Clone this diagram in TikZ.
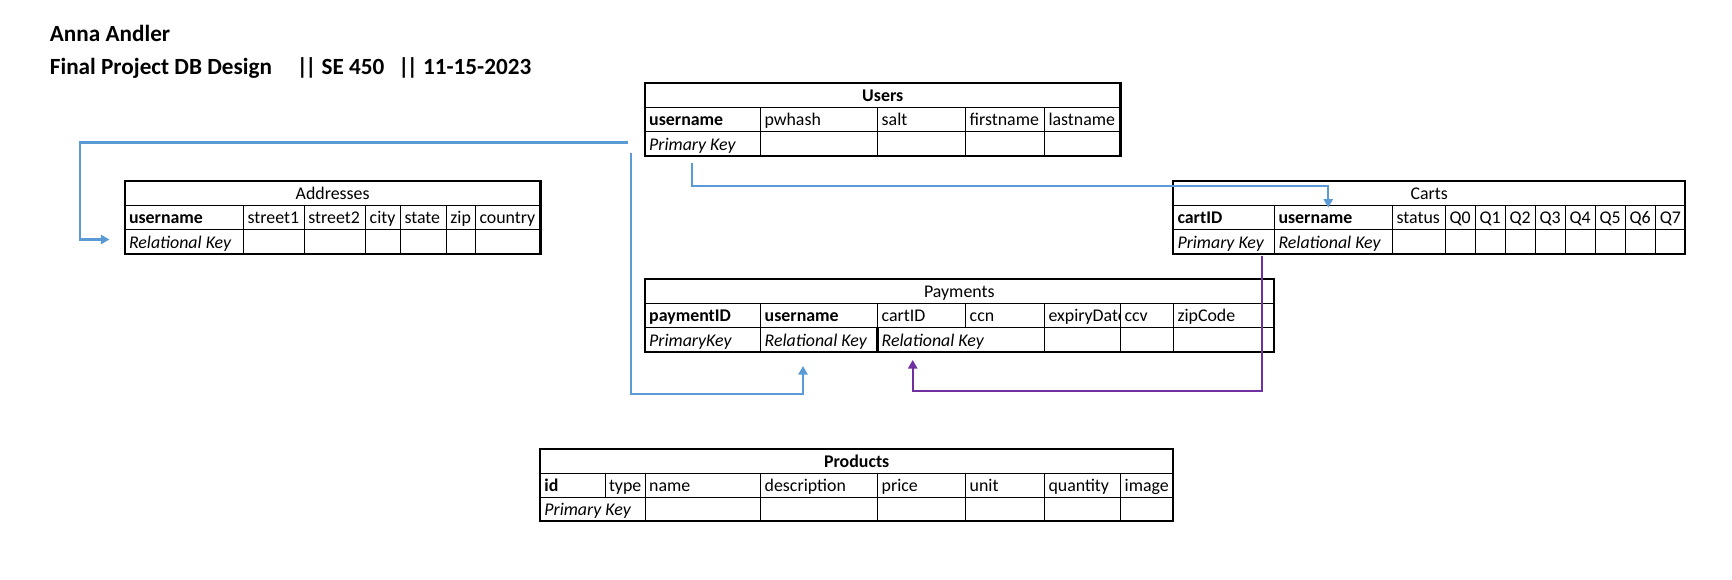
\documentclass[tikz,border=0pt]{standalone}
\usepackage{fontspec}
\setmainfont{Carlito}
\usetikzlibrary{fit,arrows.meta}
\definecolor{linkblue}{HTML}{5B9BD5}
\definecolor{linkpurple}{HTML}{7030A0}
\newcommand\tabfont{\fontsize{8.93}{10.7}\selectfont}
\newcommand\ttlfont{\fontsize{11.6}{13.9}\selectfont\bfseries}
\newcommand\dbar{|\kern-1.3pt|}
\begin{document}
\begin{tikzpicture}[x=0.5pt,y=-0.5pt,
  tbl/.style={draw, line width=1.1pt, inner sep=0pt},
  gridline/.style={line width=0.5pt},
  thickline/.style={line width=1.1pt},
  cell/.style={anchor=base west, inner sep=0pt, font=\tabfont},
  hcell/.style={anchor=base, inner sep=0pt, font=\tabfont},
  bhcell/.style={anchor=base, inner sep=0pt, font=\tabfont\bfseries},
  keycell/.style={anchor=base west, inner sep=0pt, font=\tabfont\bfseries},
  itcell/.style={anchor=base west, inner sep=0pt, font=\tabfont\itshape},
  ttl/.style={anchor=base west, inner sep=0pt, font=\ttlfont},
  bluelink/.style={line width=1.05pt, draw=linkblue, -{Triangle[length=4.3pt,width=4.6pt,fill=linkblue]}},
  purplelink/.style={line width=1.05pt, draw=linkpurple, -{Triangle[length=4.3pt,width=4.6pt,fill=linkpurple]}}
]
\useasboundingbox (0,0) rectangle (1732,579);

% ---------- titles ----------
\node[ttl] (name) at (49.5,41.7) {Anna Andler};
\node[ttl] (proj) at (49.5,74) {Final Project DB Design};
\node[ttl] (course) at (296.5,74) {\dbar{} SE 450};
\node[ttl] (date) at (398,74) {\dbar{} 11-15-2023};

% ---------- Users ----------
\node[tbl, fit={(645,82.8)(1120.5,156)}] (users) {};
\draw[gridline] (645,107.3) -- (1120.5,107.3) (645,131.7) -- (1120.5,131.7);
\foreach \x in {760.3,877.5,965.5,1044.3} \draw[gridline] (\x,107.3) -- (\x,156);
\node[bhcell] (users-t) at (882.75,101.5) {Users};
\node[keycell] (users-a1) at (648.8,125.9) {username};
\node[cell] (users-a2) at (764.1,125.9) {pwhash};
\node[cell] (users-a3) at (881.3,125.9) {salt};
\node[cell] (users-a4) at (969.3,125.9) {firstname};
\node[cell] (users-a5) at (1048.1,125.9) {lastname};
\node[itcell] (users-b1) at (648.8,150.2) {Primary Key};

% ---------- Addresses ----------
\node[tbl, fit={(124.8,180.8)(540.4,254)}] (addr) {};
\draw[gridline] (124.8,205.3) -- (540.4,205.3) (124.8,229.6) -- (540.4,229.6);
\foreach \x in {243.4,304.2,365.5,400.3,446.2,475.3} \draw[gridline] (\x,205.3) -- (\x,254);
\node[hcell] (addr-t) at (332.6,199.5) {Addresses};
\node[keycell] (addr-a1) at (128.6,223.8) {username};
\node[cell] (addr-a2) at (247.2,223.8) {street1};
\node[cell] (addr-a3) at (308.0,223.8) {street2};
\node[cell] (addr-a4) at (369.3,223.8) {city};
\node[cell] (addr-a5) at (404.1,223.8) {state};
\node[cell] (addr-a6) at (450.0,223.8) {zip};
\node[cell] (addr-a7) at (479.1,223.8) {country};
\node[itcell] (addr-b1) at (128.6,248.2) {Relational Key};

% ---------- Carts ----------
\node[tbl, fit={(1173.3,180.8)(1685,254)}] (carts) {};
\draw[gridline] (1173.3,205.3) -- (1685,205.3) (1173.3,229.6) -- (1685,229.6);
\foreach \x in {1274.3,1392.4,1445.5,1475.5,1505.3,1535.3,1565.4,1595.4,1625.5,1655.6} \draw[gridline] (\x,205.3) -- (\x,254);
\node[hcell] (carts-t) at (1429.2,199.5) {Carts};
\node[keycell] (carts-a1) at (1177.1,223.8) {cartID};
\node[keycell] (carts-a2) at (1278.1,223.8) {username};
\node[cell] (carts-a3) at (1396.2,223.8) {status};
\node[cell] (carts-q0) at (1449.3,223.8) {Q0};
\node[cell] (carts-q1) at (1479.3,223.8) {Q1};
\node[cell] (carts-q2) at (1509.1,223.8) {Q2};
\node[cell] (carts-q3) at (1539.1,223.8) {Q3};
\node[cell] (carts-q4) at (1569.2,223.8) {Q4};
\node[cell] (carts-q5) at (1599.2,223.8) {Q5};
\node[cell] (carts-q6) at (1629.3,223.8) {Q6};
\node[cell] (carts-q7) at (1659.4,223.8) {Q7};
\node[itcell] (carts-b1) at (1177.1,248.2) {Primary Key};
\node[itcell] (carts-b2) at (1278.1,248.2) {Relational Key};

% ---------- Payments ----------
\node[tbl, fit={(645,278.7)(1273.7,352)}] (pay) {};
\draw[gridline] (645,303.5) -- (1273.7,303.5) (645,327.6) -- (1273.7,327.6);
\foreach \x in {760.5,877.5,965.5,1044.3,1120.4,1173.3} \draw[gridline] (\x,303.5) -- (\x,327.6);
\foreach \x in {760.5,1044.3,1120.4,1173.3} \draw[gridline] (\x,327.6) -- (\x,352);
\draw[thickline] (877.5,327.6) -- (877.5,352);
\node[hcell] (pay-t) at (959.3,297.7) {Payments};
\node[keycell] (pay-a1) at (648.8,321.8) {paymentID};
\node[keycell] (pay-a2) at (764.3,321.8) {username};
\node[cell] (pay-a3) at (881.3,321.8) {cartID};
\node[cell] (pay-a4) at (969.3,321.8) {ccn};
\begin{scope}
  \clip (1044.3,303.5) rectangle (1120.4,327.6);
  \node[cell] (pay-a5) at (1048.1,321.8) {expiryDate};
\end{scope}
\node[cell] (pay-a6) at (1124.2,321.8) {ccv};
\node[cell] (pay-a7) at (1177.1,321.8) {zipCode};
\node[itcell] (pay-b1) at (648.8,346.2) {PrimaryKey};
\node[itcell] (pay-b2) at (764.3,346.2) {Relational Key};
\node[itcell] (pay-b3) at (881.3,346.2) {Relational Key};

% ---------- Products ----------
\node[tbl, fit={(540.2,448.7)(1173.3,521.3)}] (prod) {};
\draw[gridline] (540.2,473) -- (1173.3,473) (540.2,497.5) -- (1173.3,497.5);
\draw[gridline] (605,473) -- (605,497.5);
\foreach \x in {645,760.5,877.5,965.5,1044.3,1120.5} \draw[gridline] (\x,473) -- (\x,521.3);
\node[bhcell] (prod-t) at (856.7,467.2) {Products};
\node[keycell] (prod-a1) at (544,491.7) {id};
\node[cell] (prod-a2) at (608.6,491.7) {type};
\node[cell] (prod-a3) at (648.8,491.7) {name};
\node[cell] (prod-a4) at (764.3,491.7) {description};
\node[cell] (prod-a5) at (881.3,491.7) {price};
\node[cell] (prod-a6) at (969.3,491.7) {unit};
\node[cell] (prod-a7) at (1048.1,491.7) {quantity};
\node[cell] (prod-a8) at (1124.3,491.7) {image};
\node[itcell] (prod-b1) at (544,515.5) {Primary Key};

% ---------- connectors ----------
\coordinate (l1s) at (628,142.5);
\coordinate (l1e) at (109.5,239.5);
\draw[bluelink] (l1s) -| (80.4,239.5) -- (l1e);

\coordinate (l2s) at (630.6,152.7);
\coordinate (l2e) at (803,366);
\draw[bluelink] (l2s) |- (803,394.3) -- (l2e);

\coordinate (l3s) at (691.8,163.3);
\coordinate (l3e) at (1328.2,207.7);
\draw[bluelink] (l3s) |- (1328.2,185.9) -- (l3e);

\coordinate (l4s) at (1261.7,255.7);
\coordinate (l4e) at (912.7,360);
\draw[purplelink] (l4s) |- (912.7,391) -- (l4e);

\end{tikzpicture}
\end{document}
